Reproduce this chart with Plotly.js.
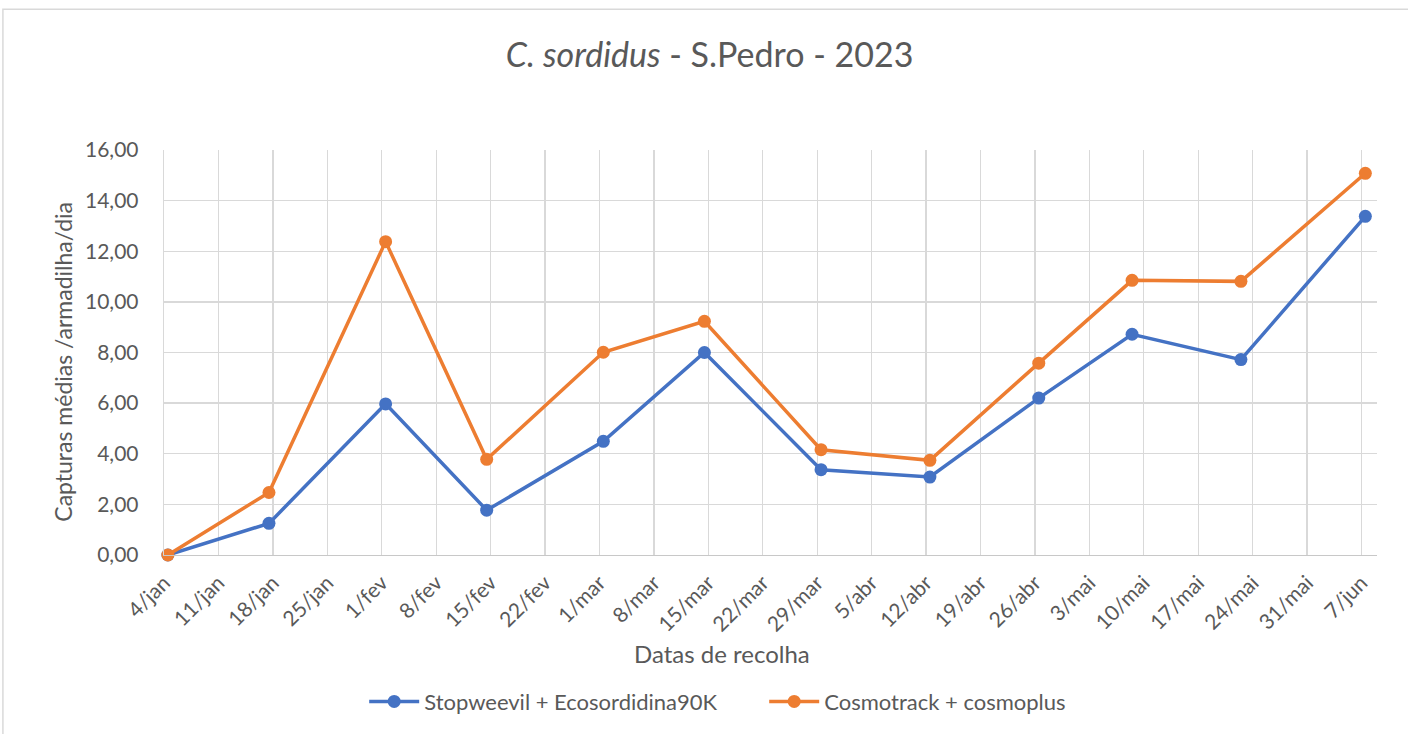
<!DOCTYPE html>
<html>
<head>
<meta charset="utf-8">
<script src="https://cdn.plot.ly/plotly-3.0.1.min.js"></script>
<style>html,body{margin:0;padding:0;background:#fff;}#chart{width:1408px;height:734px;}</style>
</head>
<body>
<div id="chart"></div>
<script>
// Collection dates (points sit in the middle of their day slot, as in the original date axis)
const sampleDates = ['2023-01-04','2023-01-17','2023-02-01','2023-02-14','2023-03-01','2023-03-14',
                     '2023-03-29','2023-04-12','2023-04-26','2023-05-08','2023-05-22','2023-06-07'];
const seriesNames = ['Stopweevil + Ecosordidina90K', 'Cosmotrack + cosmoplus'];
const stopweevil = [0, 1.25, 5.97, 1.77, 4.49, 8.00, 3.37, 3.08, 6.20, 8.72, 7.72, 13.38];
const cosmotrack = [0, 2.47, 12.38, 3.78, 8.01, 9.23, 4.16, 3.74, 7.58, 10.85, 10.81, 15.08];
const tickDates = ['2023-01-04','2023-01-11','2023-01-18','2023-01-25','2023-02-01','2023-02-08',
                   '2023-02-15','2023-02-22','2023-03-01','2023-03-08','2023-03-15','2023-03-22',
                   '2023-03-29','2023-04-05','2023-04-12','2023-04-19','2023-04-26','2023-05-03',
                   '2023-05-10','2023-05-17','2023-05-24','2023-05-31','2023-06-07'];
const tickLabels = ['4/jan','11/jan','18/jan','25/jan','1/fev','8/fev','15/fev','22/fev','1/mar','8/mar',
                    '15/mar','22/mar','29/mar','5/abr','12/abr','19/abr','26/abr','3/mai','10/mai',
                    '17/mai','24/mai','31/mai','7/jun'];
const yTicks = [0, 2, 4, 6, 8, 10, 12, 14, 16];
const yTickLabels = ['0,00','2,00','4,00','6,00','8,00','10,00','12,00','14,00','16,00'];

const FONT = 'Lato, "Open Sans", "Liberation Sans", sans-serif';
const TXT = '#595959';
const xs = sampleDates.map(d => d + ' 12:00');

const traces = [
  {x: xs, y: stopweevil, name: seriesNames[0], type: 'scatter', mode: 'lines+markers', cliponaxis: false,
   line: {color: '#4472C4', width: 3.5}, marker: {color: '#4472C4', size: 13}},
  {x: xs, y: cosmotrack, name: seriesNames[1], type: 'scatter', mode: 'lines+markers', cliponaxis: false,
   line: {color: '#ED7D31', width: 3.5}, marker: {color: '#ED7D31', size: 13}}
];

const layout = {
  width: 1408, height: 734,
  margin: {l: 164, r: 31, t: 150, b: 176},
  paper_bgcolor: '#fff', plot_bgcolor: '#fff',
  font: {family: FONT, color: TXT, size: 20},
  title: {text: '<i>C. sordidus</i> - S.Pedro - 2023', font: {family: FONT, size: 34, color: TXT},
          xref: 'container', x: 0.504, xanchor: 'center', yref: 'container', y: 0.925, yanchor: 'middle'},
  xaxis: {type: 'date', range: ['2023-01-04', '2023-06-09'], tickvals: tickDates, ticktext: tickLabels,
          tickangle: -45, ticks: '', ticklabelstandoff: 6, tickfont: {size: 21, color: TXT}, automargin: false,
          showgrid: true, gridcolor: '#d9d9d9', gridwidth: 1.3,
          showline: true, linecolor: '#c8c8c8', linewidth: 1.3, zeroline: false, fixedrange: true},
  yaxis: {range: [0, 16], tickvals: yTicks, ticktext: yTickLabels, ticks: '', ticklabelstandoff: 20,
          tickfont: {size: 21, color: TXT}, automargin: false, showgrid: true, gridcolor: '#d9d9d9', gridwidth: 1.3,
          showline: true, linecolor: '#d9d9d9', linewidth: 1.3, zeroline: false, fixedrange: true},
  showlegend: true,
  legend: {orientation: 'h', x: 0.4948, xanchor: 'center', y: -0.362, yanchor: 'middle',
           font: {size: 22, color: TXT}, itemwidth: 50, entrywidth: 335, entrywidthmode: 'pixels'},
  annotations: [
    {text: 'Datas de recolha', xref: 'paper', yref: 'paper', x: 0.46, y: -0.243,
     xanchor: 'center', yanchor: 'middle', showarrow: false, font: {size: 24, color: TXT}},
    {text: 'Capturas médias /armadilha/dia', xref: 'paper', yref: 'paper', x: -0.083, y: 0.478,
     xanchor: 'center', yanchor: 'middle', textangle: -90, showarrow: false, font: {size: 23, color: TXT}}
  ],
  shapes: [
    {type: 'rect', xref: 'paper', yref: 'paper', x0: -0.1328, x1: 1.3, y0: -0.6, y1: 1.3475,
     line: {color: '#d9d9d9', width: 1.5}, fillcolor: 'rgba(0,0,0,0)', layer: 'below'}
  ]
};

Plotly.newPlot('chart', traces, layout, {displayModeBar: false, staticPlot: true});
</script>
</body>
</html>
